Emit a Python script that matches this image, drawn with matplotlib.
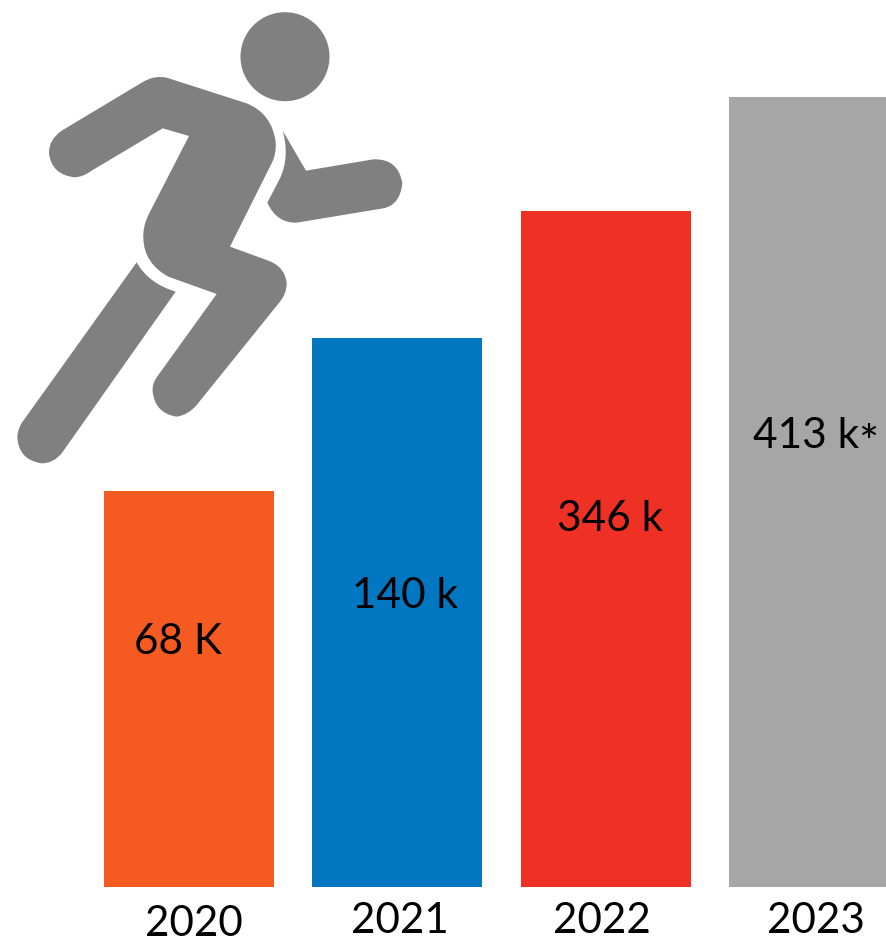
import matplotlib
matplotlib.use("Agg")
import matplotlib.pyplot as plt
from matplotlib.patches import Circle, PathPatch
from matplotlib.path import Path

# years and bar heights (pixels, bars are not to scale with the labels)
years = ["2020", "2021", "2022", "2023"]
heights = [396, 549, 676, 790]
labels = ["68 K", "140 k", "346 k", "413 k"]
colors = ["#F55B20", "#0077C0", "#EF3024", "#A6A6A6"]

plt.rcParams["font.family"] = ["Lato", "DejaVu Sans"]

fig = plt.figure(figsize=(8.87, 9.43), dpi=100)
ax = fig.add_axes([0, 0, 1, 1])
ax.set_xlim(0, 887)
ax.set_ylim(-56, 887)
ax.axis("off")

# bars
lefts = [104, 312, 521, 729]
ax.bar(lefts, heights, width=170, align="edge", color=colors, linewidth=0)

# labels in the bars, placed by hand like the original
label_x = [178, 405, 610, 806]
label_y = [245, 291, 368, 451]
for x, y, s in zip(label_x, label_y, labels):
    ax.text(x, y, s, fontsize=30.5, ha="center", va="center", color="black")
ax.text(868, 442, "*", fontsize=34, ha="center", va="center", color="black")

# years under the bars
year_x = [194, 400, 602, 816]
year_y = [-37, -34, -34, -34]
for x, y, s in zip(year_x, year_y, years):
    ax.text(x, y, s, fontsize=30.3, ha="center", va="center", color="black")

# runner icon, outlines (3x crop coordinates)
gray = "#808080"

def shape(start, segs):
    verts = [start]
    codes = [Path.MOVETO]
    for s in segs:
        if len(s) == 2:
            verts.append(s)
            codes.append(Path.LINETO)
        else:
            verts += [(s[0], s[1]), (s[2], s[3])]
            codes += [Path.CURVE3, Path.CURVE3]
    verts.append(start)
    codes.append(Path.CLOSEPOLY)
    verts = [(x / 3, 887 - y / 3) for x, y in verts]
    ax.add_patch(PathPatch(Path(verts, codes), facecolor=gray, lw=0, zorder=5))

# body with back arm and front leg
shape((488, 385), [(567, 408), (445, 645), (428, 680, 430, 715), (432, 790, 505, 830),
                   (650, 882), (475, 1125), (455, 1150, 458, 1175), (465, 1240, 530, 1250),
                   (565, 1245, 590, 1215), (840, 905), (860, 880, 860, 850), (855, 800, 805, 782),
                   (690, 740), (815, 490), (830, 460, 827, 425), (815, 340, 740, 310),
                   (500, 233), (465, 225, 430, 245), (185, 392), (145, 420, 147, 460),
                   (155, 525, 225, 532), (250, 530, 270, 515)])
# front arm
shape((848, 392), [(918, 512), (1120, 478), (1195, 475, 1207, 550), (1200, 615, 1150, 625),
                   (890, 668), (830, 670, 802, 608), (840, 535), (870, 470, 848, 392)])
# back leg
shape((410, 787), [(445, 850, 527, 875), (185, 1360), (160, 1390, 125, 1390),
                   (55, 1380, 52, 1310), (55, 1280, 70, 1262)])
# head
ax.add_patch(Circle((285, 887 - 56.7), 44.5, color=gray, lw=0, zorder=5))

fig.savefig("out.png", dpi=100)
